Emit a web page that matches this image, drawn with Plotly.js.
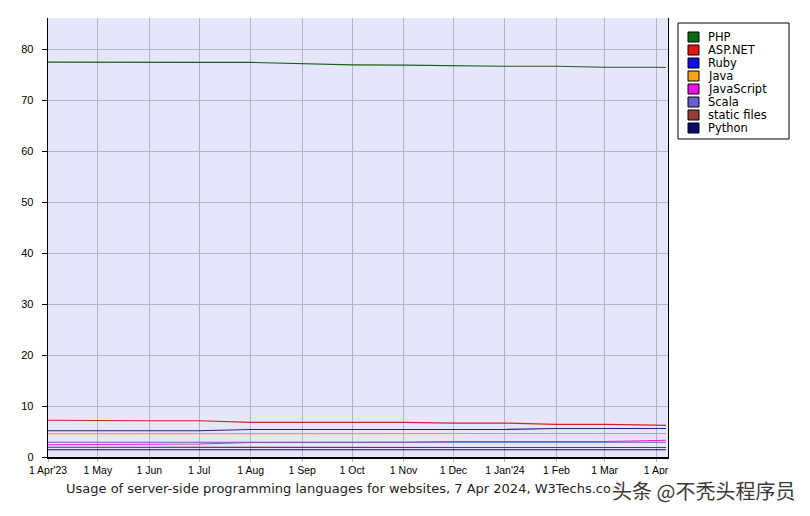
<!DOCTYPE html>
<html>
<head>
<meta charset="utf-8">
<script src="https://cdn.plot.ly/plotly-3.0.1.min.js"></script>
<style>html,body{margin:0;padding:0;background:#fff;}#chart{width:810px;height:516px;}</style>
</head>
<body>
<div id="chart"></div>
<script>
// ---- data ----
const dates = ['2023-04-01','2023-05-01','2023-06-01','2023-07-01','2023-08-01','2023-09-01','2023-10-01','2023-11-01','2023-12-01','2024-01-01','2024-02-01','2024-03-01','2024-04-01','2024-04-07'];
const seriesNames = ['PHP','ASP.NET','Ruby','Java','JavaScript','Scala','static files','Python'];
const seriesColors = ['#0b6b12','#ee1111','#1010ee','#f5a51a','#ee11ee','#6a5fcf','#993c3c','#0a0a70'];
const lineColors = ['#1a5e1a','#d42222','#22228a','#e0a040','#e020d0','#6a5fb8','#7a2a4a','#2a0a50'];
const php        = [77.45,77.4,77.4,77.4,77.4,77.2,76.9,76.85,76.7,76.65,76.65,76.45,76.45,76.4];
const aspnet     = [7.2,7.1,7.1,7.1,6.8,6.8,6.8,6.8,6.65,6.65,6.4,6.4,6.25,6.2];
const ruby       = [5.15,5.15,5.15,5.15,5.4,5.4,5.4,5.4,5.4,5.4,5.6,5.6,5.6,5.6];
const java       = [4.57,4.57,4.58,4.58,4.6,4.6,4.6,4.6,4.6,4.6,4.6,4.6,4.62,4.62];
const javascript = [2.4,2.45,2.5,2.55,2.85,2.85,2.85,2.88,3.05,3.0,3.0,3.05,3.25,3.28];
const scala      = [2.88,2.88,2.88,2.88,2.88,2.88,2.88,2.88,2.88,2.88,2.88,2.88,2.9,2.9];
const staticFiles= [1.9,1.9,1.9,1.9,1.9,1.88,1.86,1.86,1.86,1.86,1.86,1.86,1.86,1.86];
const python     = [1.43,1.43,1.43,1.43,1.43,1.43,1.43,1.43,1.43,1.43,1.43,1.43,1.43,1.43];
const seriesValues = [php,aspnet,ruby,java,javascript,scala,staticFiles,python];
const xTickVals = ['2023-04-01','2023-05-01','2023-06-01','2023-07-01','2023-08-01','2023-09-01','2023-10-01','2023-11-01','2023-12-01','2024-01-01','2024-02-01','2024-03-01','2024-04-01'];
const xTickText = ["1 Apr'23",'1 May','1 Jun','1 Jul','1 Aug','1 Sep','1 Oct','1 Nov','1 Dec',"1 Jan'24",'1 Feb','1 Mar','1 Apr'];
const yTickVals = [0,10,20,30,40,50,60,70,80];
const titleText = 'Usage of server-side programming languages for websites, 7 Apr 2024, W3Techs.com';
const watermark = '头条 @不秃头程序员';

// ---- layout geometry (pixels) ----
const L = 48, R = 668, T = 18, B = 457;
const px = x => (x - L) / (R - L);
const py = y => (B - y) / (B - T);

const traces = seriesNames.map((n, i) => ({
  type: 'scatter', mode: 'lines', name: n, x: dates, y: seriesValues[i],
  line: {color: lineColors[i], width: 1.1}, showlegend: false, hoverinfo: 'skip'
}));

const shapes = [{type:'rect', xref:'paper', yref:'paper', x0:px(678), x1:px(789), y0:py(139), y1:py(23),
  line:{color:'#000', width:1}, fillcolor:'#fff', layer:'above'}];
const annotations = [];
seriesNames.forEach((n, i) => {
  const cy = 37 + 13 * i;
  shapes.push({type:'rect', xref:'paper', yref:'paper', x0:px(688), x1:px(699), y0:py(cy+5), y1:py(cy-5),
    line:{color:'#000', width:1}, fillcolor:seriesColors[i], layer:'above'});
  annotations.push({xref:'paper', yref:'paper', x:px(707), y:py(cy), xanchor:'left', yanchor:'middle',
    text:n, showarrow:false, borderpad:0,
    font:{family:'DejaVu Sans', size:11.5, color:'#000'}});
});
annotations.push({xref:'paper', yref:'paper', x:px(64), y:py(489), xanchor:'left', yanchor:'middle',
  text:titleText, showarrow:false, font:{family:'DejaVu Sans', size:13, color:'#222'}});
annotations.push({xref:'paper', yref:'paper', x:px(797), y:py(490), xanchor:'right', yanchor:'middle',
  text:watermark, showarrow:false, bgcolor:'rgba(255,255,255,0.85)', borderpad:1,
  font:{family:'Noto Sans CJK SC', size:20, color:'#3a3a3a'}});

const layout = {
  width: 810, height: 516,
  margin: {l: L, r: 810 - R, t: T, b: 516 - B, pad: 0},
  paper_bgcolor: '#ffffff', plot_bgcolor: '#e6e6fa',
  showlegend: false,
  xaxis: {type:'date', range:['2023-04-01','2024-04-08 04:00'], tickvals:xTickVals, ticktext:xTickText,
    showgrid:true, gridcolor:'#b4b4c4', gridwidth:1, showline:true, linecolor:'#000', linewidth:1.5,
    ticks:'outside', ticklen:3, tickcolor:'#b4b4c4', zeroline:false,
    tickfont:{family:'Liberation Sans', size:10.5, color:'#000'}},
  yaxis: {range:[0,86.1], tickvals:yTickVals, showgrid:true, gridcolor:'#b4b4c4', gridwidth:1,
    showline:true, mirror:true, linecolor:'#000', linewidth:1.3, ticks:'outside', ticklen:5, tickcolor:'#000',
    zeroline:false, ticklabelstandoff:6, tickfont:{family:'Liberation Sans', size:11, color:'#000'}},
  shapes, annotations
};

Plotly.newPlot('chart', traces, layout, {staticPlot:true, displayModeBar:false});
</script>
</body>
</html>
